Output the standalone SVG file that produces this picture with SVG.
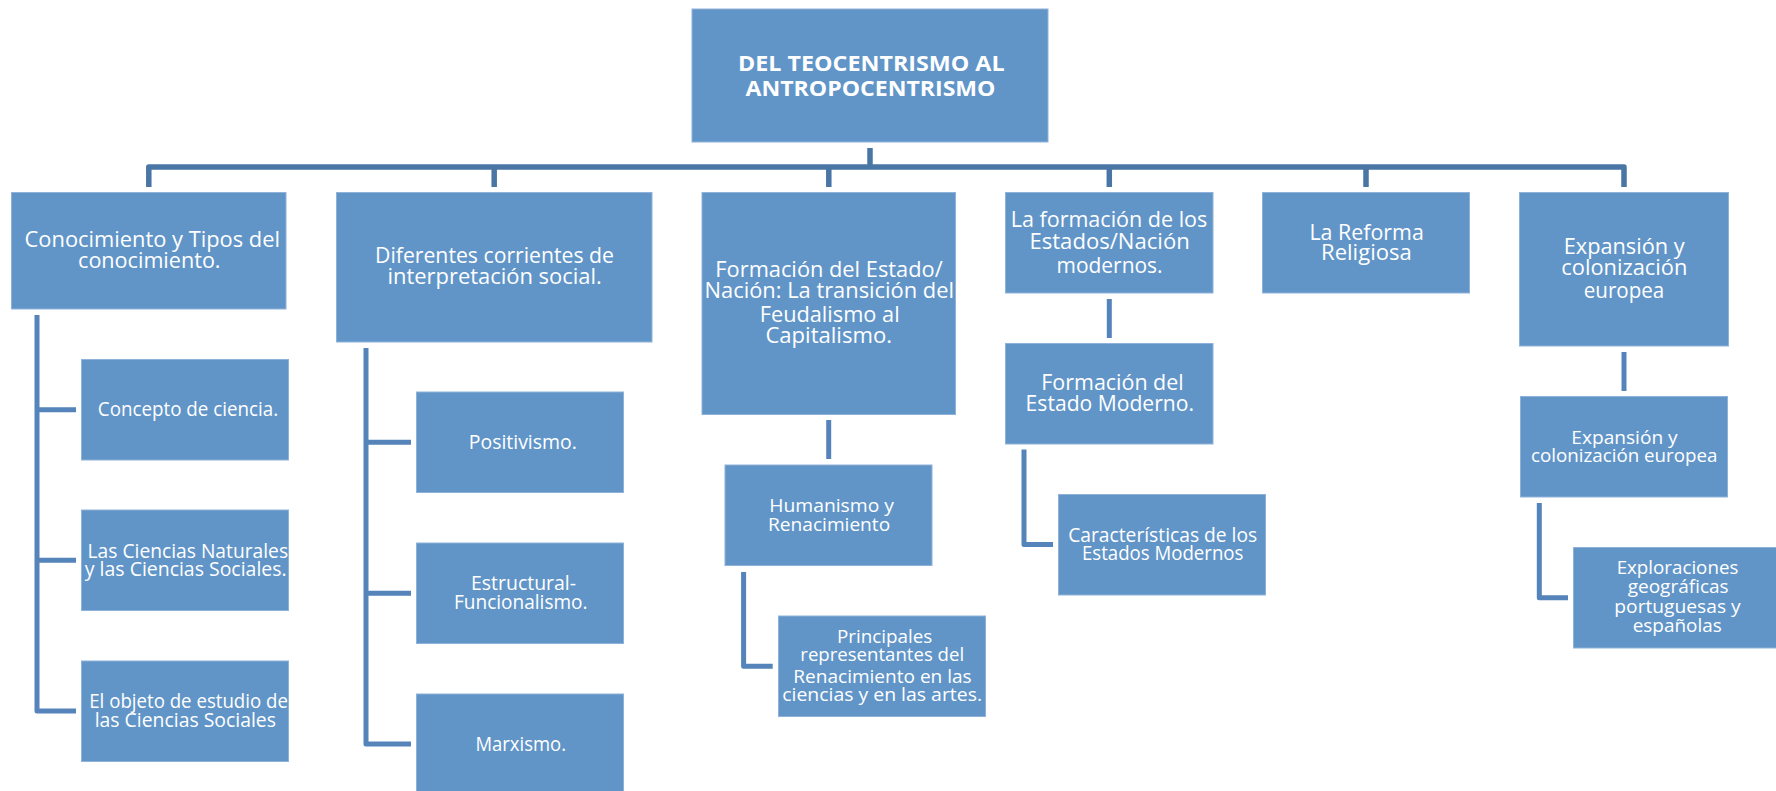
<svg xmlns="http://www.w3.org/2000/svg" width="1776" height="791" viewBox="0 0 1776 791">
<style>
.box{fill:#6195C8;stroke:#8FB2DA;stroke-width:1}
.t{font-family:"Open Sans","Liberation Sans",Arial,sans-serif;fill:#FFFFFF;text-anchor:middle}
.t1{font-size:21px}
.t2{font-size:20px}
.t3{font-size:19px}
.t4{font-size:18px}
.tb{font-size:22px;font-weight:bold}
.c0{fill:none;stroke:#4A76A6;stroke-width:5.5;stroke-linejoin:round}
.c1{fill:none;stroke:#5584BB;stroke-width:5;stroke-linejoin:round}
</style>
<rect width="1776" height="791" fill="#FFFFFF"/>
<g id="connectors">
<path class="c0" d="M870,148 V167"/>
<path class="c0" d="M148.8,187 V167 H1624 V187"/>
<path class="c0" d="M494.2,167 V187 M828.8,167 V187 M1109.3,167 V187 M1366,167 V187"/>
<path class="c1" d="M37,315 V711 H76 M37,409.7 H76 M37,560.3 H76"/>
<path class="c1" d="M366,348 V744 H411 M366,442.3 H411 M366,593.2 H411"/>
<path class="c1" d="M828.7,420 V459"/>
<path class="c1" d="M743.6,572 V666.2 H772.7"/>
<path class="c1" d="M1109.3,299 V338"/>
<path class="c1" d="M1024,449.5 V544.5 H1053"/>
<path class="c1" d="M1624,352 V391"/>
<path class="c1" d="M1539.3,503 V597.7 H1568"/>
</g>
<g id="n-root">
<rect class="box" x="692" y="9" width="356" height="133"/>
<text class="t tb" x="871.3" y="71" textLength="266.5" lengthAdjust="spacingAndGlyphs">DEL TEOCENTRISMO AL</text>
<text class="t tb" x="870.5" y="96" textLength="250" lengthAdjust="spacingAndGlyphs">ANTROPOCENTRISMO</text>
</g>
<g id="n-conocimiento">
<rect class="box" x="11.5" y="192.5" width="274.5" height="116.5"/>
<text class="t t1" x="152.3" y="246.7" textLength="255.4" lengthAdjust="spacingAndGlyphs">Conocimiento y Tipos del</text>
<text class="t t1" x="149.3" y="268.3" textLength="142.5" lengthAdjust="spacingAndGlyphs">conocimiento.</text>
</g>
<g id="n-diferentes">
<rect class="box" x="336.5" y="192.5" width="315.5" height="149.5"/>
<text class="t t1" x="494.5" y="262.7" textLength="239" lengthAdjust="spacingAndGlyphs">Diferentes corrientes de</text>
<text class="t t1" x="494.6" y="284" textLength="214.3" lengthAdjust="spacingAndGlyphs">interpretación social.</text>
</g>
<g id="n-formacion-estado">
<rect class="box" x="702" y="192.5" width="253.5" height="222"/>
<text class="t t1" x="829" y="277.3" textLength="227.3" lengthAdjust="spacingAndGlyphs">Formación del Estado/</text>
<text class="t t1" x="829.3" y="298.3" textLength="249.5" lengthAdjust="spacingAndGlyphs">Nación: La transición del</text>
<text class="t t1" x="829.7" y="322.3" textLength="140" lengthAdjust="spacingAndGlyphs">Feudalismo al</text>
<text class="t t1" x="828.7" y="343.3" textLength="126.6" lengthAdjust="spacingAndGlyphs">Capitalismo.</text>
</g>
<g id="n-la-formacion">
<rect class="box" x="1005.5" y="192.5" width="207.5" height="100.5"/>
<text class="t t1" x="1109" y="226.7" textLength="196.7" lengthAdjust="spacingAndGlyphs">La formación de los</text>
<text class="t t1" x="1109.6" y="249" textLength="160.3" lengthAdjust="spacingAndGlyphs">Estados/Nación</text>
<text class="t t1" x="1109.6" y="272.7" textLength="106" lengthAdjust="spacingAndGlyphs">modernos.</text>
</g>
<g id="n-reforma">
<rect class="box" x="1262.5" y="192.5" width="207" height="100.5"/>
<text class="t t1" x="1366.6" y="240" textLength="114.4" lengthAdjust="spacingAndGlyphs">La Reforma</text>
<text class="t t1" x="1366.4" y="260" textLength="90.7" lengthAdjust="spacingAndGlyphs">Religiosa</text>
</g>
<g id="n-expansion">
<rect class="box" x="1519.5" y="192.5" width="209" height="153.5"/>
<text class="t t1" x="1624.2" y="254" textLength="121" lengthAdjust="spacingAndGlyphs">Expansión y</text>
<text class="t t1" x="1624.3" y="275" textLength="126" lengthAdjust="spacingAndGlyphs">colonización</text>
<text class="t t1" x="1624" y="298.3" textLength="80.5" lengthAdjust="spacingAndGlyphs">europea</text>
</g>
<g id="n-concepto">
<rect class="box" x="81.5" y="359.5" width="207" height="100.5"/>
<text class="t t2" x="188" y="416" textLength="180.3" lengthAdjust="spacingAndGlyphs">Concepto de ciencia.</text>
</g>
<g id="n-ciencias">
<rect class="box" x="81.5" y="510" width="207" height="100.5"/>
<text class="t t2" x="187.8" y="557.7" textLength="200.5" lengthAdjust="spacingAndGlyphs">Las Ciencias Naturales</text>
<text class="t t2" x="185.7" y="576" textLength="201.8" lengthAdjust="spacingAndGlyphs">y las Ciencias Sociales.</text>
</g>
<g id="n-objeto">
<rect class="box" x="81.5" y="661" width="207" height="100.5"/>
<text class="t t2" x="188.6" y="708" textLength="198.7" lengthAdjust="spacingAndGlyphs">El objeto de estudio de</text>
<text class="t t2" x="185.3" y="726.7" textLength="181.3" lengthAdjust="spacingAndGlyphs">las Ciencias Sociales</text>
</g>
<g id="n-positivismo">
<rect class="box" x="416.5" y="392" width="207" height="100.5"/>
<text class="t t2" x="522.8" y="449" textLength="108" lengthAdjust="spacingAndGlyphs">Positivismo.</text>
</g>
<g id="n-estructural">
<rect class="box" x="416.5" y="543" width="207" height="100.5"/>
<text class="t t2" x="523.5" y="590" textLength="105" lengthAdjust="spacingAndGlyphs">Estructural-</text>
<text class="t t2" x="520.8" y="609" textLength="133.5" lengthAdjust="spacingAndGlyphs">Funcionalismo.</text>
</g>
<g id="n-marxismo">
<rect class="box" x="416.5" y="694" width="207" height="100.5"/>
<text class="t t2" x="520.7" y="751.3" textLength="90.6" lengthAdjust="spacingAndGlyphs">Marxismo.</text>
</g>
<g id="n-humanismo">
<rect class="box" x="725" y="465" width="207" height="100.5"/>
<text class="t t3" x="831.6" y="512.3" textLength="124.7" lengthAdjust="spacingAndGlyphs">Humanismo y</text>
<text class="t t3" x="829.1" y="531" textLength="122.1" lengthAdjust="spacingAndGlyphs">Renacimiento</text>
</g>
<g id="n-principales">
<rect class="box" x="778.5" y="616" width="207" height="100.5"/>
<text class="t t3" x="884.6" y="642.7" textLength="95.3" lengthAdjust="spacingAndGlyphs">Principales</text>
<text class="t t3" x="882.2" y="660.7" textLength="163.8" lengthAdjust="spacingAndGlyphs">representantes del</text>
<text class="t t3" x="882.5" y="683.3" textLength="178.3" lengthAdjust="spacingAndGlyphs">Renacimiento en las</text>
<text class="t t3" x="882.1" y="701" textLength="199.8" lengthAdjust="spacingAndGlyphs">ciencias y en las artes.</text>
</g>
<g id="n-estado-moderno">
<rect class="box" x="1005.5" y="343.5" width="207.5" height="100.5"/>
<text class="t t1" x="1112.5" y="390" textLength="142.4" lengthAdjust="spacingAndGlyphs">Formación del</text>
<text class="t t1" x="1109.8" y="411" textLength="168.4" lengthAdjust="spacingAndGlyphs">Estado Moderno.</text>
</g>
<g id="n-caracteristicas">
<rect class="box" x="1058.5" y="494.5" width="207" height="100.5"/>
<text class="t t2" x="1162.7" y="541.7" textLength="189" lengthAdjust="spacingAndGlyphs">Características de los</text>
<text class="t t2" x="1162.7" y="560" textLength="161.4" lengthAdjust="spacingAndGlyphs">Estados Modernos</text>
</g>
<g id="n-expansion-sub">
<rect class="box" x="1520.5" y="396.5" width="207" height="100.5"/>
<text class="t t4" x="1624.5" y="444" textLength="106.3" lengthAdjust="spacingAndGlyphs">Expansión y</text>
<text class="t t4" x="1624.2" y="462" textLength="186.3" lengthAdjust="spacingAndGlyphs">colonización europea</text>
</g>
<g id="n-exploraciones">
<rect class="box" x="1573.5" y="547.5" width="207" height="100.5"/>
<text class="t t4" x="1677.5" y="574" textLength="121.7" lengthAdjust="spacingAndGlyphs">Exploraciones</text>
<text class="t t4" x="1678.2" y="592.7" textLength="101" lengthAdjust="spacingAndGlyphs">geográficas</text>
<text class="t t4" x="1677.5" y="613.3" textLength="126.3" lengthAdjust="spacingAndGlyphs">portuguesas y</text>
<text class="t t4" x="1677.2" y="632.3" textLength="89" lengthAdjust="spacingAndGlyphs">españolas</text>
</g>
</svg>
